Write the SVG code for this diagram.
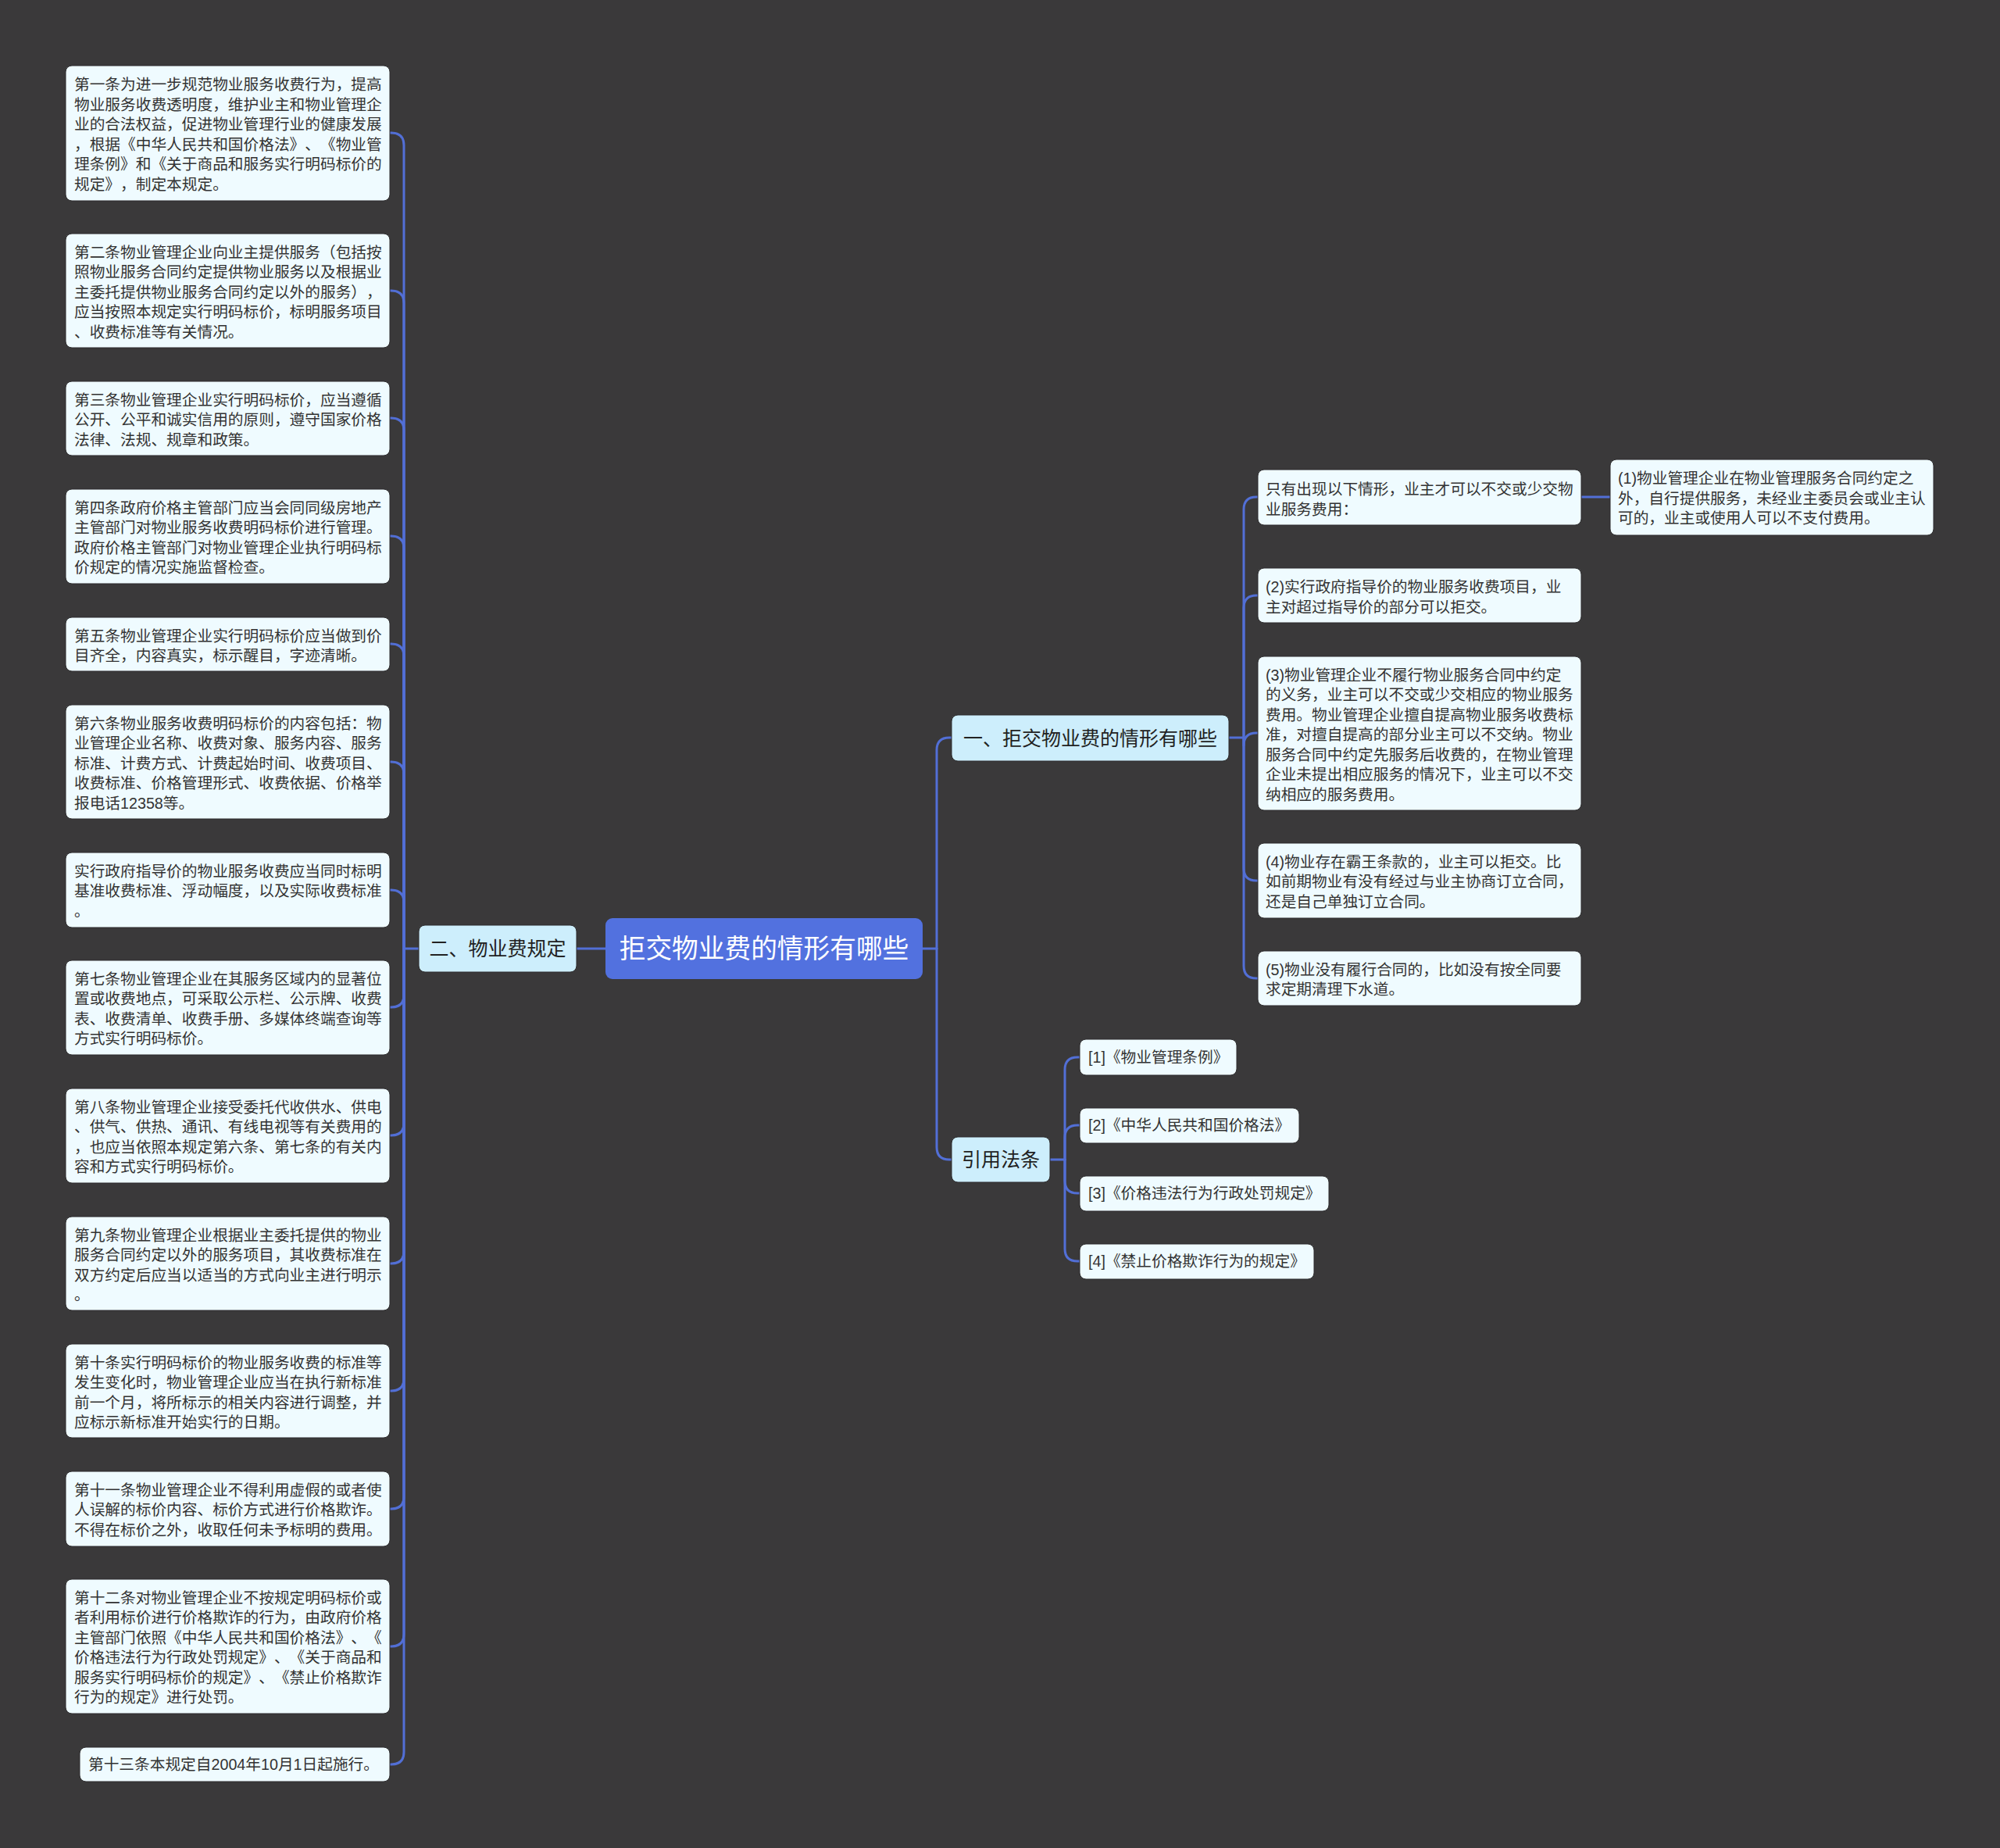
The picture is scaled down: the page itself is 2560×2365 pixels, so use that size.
<svg xmlns="http://www.w3.org/2000/svg" width="2560" height="2365" viewBox="0 0 2560 2365">
<style>
text{text-spacing-trim:space-all;font-kerning:none;font-feature-settings:"halt" 0,"chws" 0,"palt" 0}
.bg{fill:#3a393a}
.leaf{fill:#effbff;stroke:#2c2b2c;stroke-width:1}
.l1{fill:#cdeefc;stroke:#2c2b2c;stroke-width:1}
.root{fill:#5271df}
.t{font-family:"Liberation Sans","Noto Sans CJK SC",sans-serif;font-size:19.7px;fill:#333333}
.t1{font-family:"Liberation Sans","Noto Sans CJK SC",sans-serif;font-size:25px;fill:#222222;text-anchor:middle}
.tr{font-family:"Liberation Sans","Noto Sans CJK SC",sans-serif;font-size:33.7px;fill:#ffffff;text-anchor:middle}
.c{fill:none;stroke:#526fd6;stroke-width:3;stroke-linecap:round;stroke-linejoin:round}
</style>
<rect class="bg" x="0" y="0" width="2560" height="2365"/>

<g id="connectors">
<path class="c" d="M775 1214 H738"/>
<path class="c" d="M536 1214 H517"/>
<path class="c" d="M517 1214 V186 Q517 170 501 170 H499"/>
<path class="c" d="M517 1214 V388 Q517 372 501 372 H499"/>
<path class="c" d="M517 1214 V551 Q517 535 501 535 H499"/>
<path class="c" d="M517 1214 V702 Q517 686 501 686 H499"/>
<path class="c" d="M517 1214 V840 Q517 824 501 824 H499"/>
<path class="c" d="M517 1214 V991 Q517 975 501 975 H499"/>
<path class="c" d="M517 1214 V1155 Q517 1139 501 1139 H499"/>
<path class="c" d="M517 1214 V1273 Q517 1289 501 1289 H499"/>
<path class="c" d="M517 1214 V1437 Q517 1453 501 1453 H499"/>
<path class="c" d="M517 1214 V1601 Q517 1617 501 1617 H499"/>
<path class="c" d="M517 1214 V1764 Q517 1780 501 1780 H499"/>
<path class="c" d="M517 1214 V1915 Q517 1931 501 1931 H499"/>
<path class="c" d="M517 1214 V2091 Q517 2107 501 2107 H499"/>
<path class="c" d="M517 1214 V2242 Q517 2258 501 2258 H499"/>
<path class="c" d="M1181 1214 H1199"/>
<path class="c" d="M1199 1214 V960 Q1199 944 1215 944 H1218"/>
<path class="c" d="M1199 1214 V1468 Q1199 1484 1215 1484 H1218"/>
<path class="c" d="M1573 944 H1592"/>
<path class="c" d="M1592 944 V652 Q1592 636 1608 636 H1610"/>
<path class="c" d="M1592 944 V778 Q1592 762 1608 762 H1610"/>
<path class="c" d="M1592 944 V954 Q1592 938 1608 938 H1610"/>
<path class="c" d="M1592 944 V1111 Q1592 1127 1608 1127 H1610"/>
<path class="c" d="M1592 944 V1236 Q1592 1252 1608 1252 H1610"/>
<path class="c" d="M2023 636 H2061"/>
<path class="c" d="M1344 1484 H1363"/>
<path class="c" d="M1363 1484 V1369 Q1363 1353 1379 1353 H1382"/>
<path class="c" d="M1363 1484 V1456 Q1363 1440 1379 1440 H1382"/>
<path class="c" d="M1363 1484 V1511 Q1363 1527 1379 1527 H1382"/>
<path class="c" d="M1363 1484 V1598 Q1363 1614 1379 1614 H1382"/>
</g>

<g id="root">
<rect class="root" x="775" y="1175" width="406" height="78" rx="9"/>
<text class="tr" x="978" y="1226">拒交物业费的情形有哪些</text>
</g>

<g id="branch-2">
<rect class="l1" x="536" y="1184" width="202" height="60" rx="8"/>
<text class="t1" x="637" y="1223">二、物业费规定</text>
</g>

<g id="branch-1">
<rect class="l1" x="1218" y="915" width="355" height="59" rx="8"/>
<text class="t1" x="1395.5" y="954">一、拒交物业费的情形有哪些</text>
</g>

<g id="branch-3">
<rect class="l1" x="1218" y="1455" width="126" height="58" rx="8"/>
<text class="t1" x="1281" y="1493">引用法条</text>
</g>

<g id="art1">
<rect class="leaf" x="84" y="84" width="415" height="173" rx="8"/>
<text class="t" x="95" y="115">第一条为进一步规范物业服务收费行为，提高</text>
<text class="t" x="95" y="140.5">物业服务收费透明度，维护业主和物业管理企</text>
<text class="t" x="95" y="166">业的合法权益，促进物业管理行业的健康发展</text>
<text class="t" x="95" y="191.5">，根据《中华人民共和国价格法》、《物业管</text>
<text class="t" x="95" y="217">理条例》和《关于商品和服务实行明码标价的</text>
<text class="t" x="95" y="242.5">规定》，制定本规定。</text>
</g>

<g id="art2">
<rect class="leaf" x="84" y="299" width="415" height="146" rx="8"/>
<text class="t" x="95" y="329.5">第二条物业管理企业向业主提供服务（包括按</text>
<text class="t" x="95" y="355">照物业服务合同约定提供物业服务以及根据业</text>
<text class="t" x="95" y="380.5">主委托提供物业服务合同约定以外的服务），</text>
<text class="t" x="95" y="406">应当按照本规定实行明码标价，标明服务项目</text>
<text class="t" x="95" y="431.5">、收费标准等有关情况。</text>
</g>

<g id="art3">
<rect class="leaf" x="84" y="488" width="415" height="95" rx="8"/>
<text class="t" x="95" y="518.5">第三条物业管理企业实行明码标价，应当遵循</text>
<text class="t" x="95" y="544">公开、公平和诚实信用的原则，遵守国家价格</text>
<text class="t" x="95" y="569.5">法律、法规、规章和政策。</text>
</g>

<g id="art4">
<rect class="leaf" x="84" y="626" width="415" height="121" rx="8"/>
<text class="t" x="95" y="656.5">第四条政府价格主管部门应当会同同级房地产</text>
<text class="t" x="95" y="682">主管部门对物业服务收费明码标价进行管理。</text>
<text class="t" x="95" y="707.5">政府价格主管部门对物业管理企业执行明码标</text>
<text class="t" x="95" y="733">价规定的情况实施监督检查。</text>
</g>

<g id="art5">
<rect class="leaf" x="84" y="790" width="415" height="69" rx="8"/>
<text class="t" x="95" y="820.5">第五条物业管理企业实行明码标价应当做到价</text>
<text class="t" x="95" y="846">目齐全，内容真实，标示醒目，字迹清晰。</text>
</g>

<g id="art6">
<rect class="leaf" x="84" y="902" width="415" height="146" rx="8"/>
<text class="t" x="95" y="932.5">第六条物业服务收费明码标价的内容包括：物</text>
<text class="t" x="95" y="958">业管理企业名称、收费对象、服务内容、服务</text>
<text class="t" x="95" y="983.5">标准、计费方式、计费起始时间、收费项目、</text>
<text class="t" x="95" y="1009">收费标准、价格管理形式、收费依据、价格举</text>
<text class="t" x="95" y="1034.5">报电话12358等。</text>
</g>

<g id="art6b">
<rect class="leaf" x="84" y="1091" width="415" height="96" rx="8"/>
<text class="t" x="95" y="1121.5">实行政府指导价的物业服务收费应当同时标明</text>
<text class="t" x="95" y="1147">基准收费标准、浮动幅度，以及实际收费标准</text>
<text class="t" x="95" y="1172.5">。</text>
</g>

<g id="art7">
<rect class="leaf" x="84" y="1229" width="415" height="121" rx="8"/>
<text class="t" x="95" y="1259.5">第七条物业管理企业在其服务区域内的显著位</text>
<text class="t" x="95" y="1285">置或收费地点，可采取公示栏、公示牌、收费</text>
<text class="t" x="95" y="1310.5">表、收费清单、收费手册、多媒体终端查询等</text>
<text class="t" x="95" y="1336">方式实行明码标价。</text>
</g>

<g id="art8">
<rect class="leaf" x="84" y="1393" width="415" height="121" rx="8"/>
<text class="t" x="95" y="1423.5">第八条物业管理企业接受委托代收供水、供电</text>
<text class="t" x="95" y="1449">、供气、供热、通讯、有线电视等有关费用的</text>
<text class="t" x="95" y="1474.5">，也应当依照本规定第六条、第七条的有关内</text>
<text class="t" x="95" y="1500">容和方式实行明码标价。</text>
</g>

<g id="art9">
<rect class="leaf" x="84" y="1557" width="415" height="120" rx="8"/>
<text class="t" x="95" y="1587.5">第九条物业管理企业根据业主委托提供的物业</text>
<text class="t" x="95" y="1613">服务合同约定以外的服务项目，其收费标准在</text>
<text class="t" x="95" y="1638.5">双方约定后应当以适当的方式向业主进行明示</text>
<text class="t" x="95" y="1664">。</text>
</g>

<g id="art10">
<rect class="leaf" x="84" y="1720" width="415" height="120" rx="8"/>
<text class="t" x="95" y="1750.5">第十条实行明码标价的物业服务收费的标准等</text>
<text class="t" x="95" y="1776">发生变化时，物业管理企业应当在执行新标准</text>
<text class="t" x="95" y="1801.5">前一个月，将所标示的相关内容进行调整，并</text>
<text class="t" x="95" y="1827">应标示新标准开始实行的日期。</text>
</g>

<g id="art11">
<rect class="leaf" x="84" y="1883" width="415" height="96" rx="8"/>
<text class="t" x="95" y="1913.5">第十一条物业管理企业不得利用虚假的或者使</text>
<text class="t" x="95" y="1939">人误解的标价内容、标价方式进行价格欺诈。</text>
<text class="t" x="95" y="1964.5">不得在标价之外，收取任何未予标明的费用。</text>
</g>

<g id="art12">
<rect class="leaf" x="84" y="2021" width="415" height="172" rx="8"/>
<text class="t" x="95" y="2051.5">第十二条对物业管理企业不按规定明码标价或</text>
<text class="t" x="95" y="2077">者利用标价进行价格欺诈的行为，由政府价格</text>
<text class="t" x="95" y="2102.5">主管部门依照《中华人民共和国价格法》、《</text>
<text class="t" x="95" y="2128">价格违法行为行政处罚规定》、《关于商品和</text>
<text class="t" x="95" y="2153.5">服务实行明码标价的规定》、《禁止价格欺诈</text>
<text class="t" x="95" y="2179">行为的规定》进行处罚。</text>
</g>

<g id="art13">
<rect class="leaf" x="102" y="2236" width="397" height="44" rx="8"/>
<text class="t" x="113" y="2265">第十三条本规定自2004年10月1日起施行。</text>
</g>

<g id="case-intro">
<rect class="leaf" x="1610" y="601" width="414" height="71" rx="8"/>
<text class="t" x="1620" y="633">只有出现以下情形，业主才可以不交或少交物</text>
<text class="t" x="1620" y="658.5">业服务费用：</text>
</g>

<g id="case1">
<rect class="leaf" x="2061" y="588" width="414" height="97" rx="8"/>
<text class="t" x="2071" y="619">(1)物业管理企业在物业管理服务合同约定之</text>
<text class="t" x="2071" y="644.5">外，自行提供服务，未经业主委员会或业主认</text>
<text class="t" x="2071" y="670">可的，业主或使用人可以不支付费用。</text>
</g>

<g id="case2">
<rect class="leaf" x="1610" y="727" width="414" height="70" rx="8"/>
<text class="t" x="1620" y="758">(2)实行政府指导价的物业服务收费项目，业</text>
<text class="t" x="1620" y="783.5">主对超过指导价的部分可以拒交。</text>
</g>

<g id="case3">
<rect class="leaf" x="1610" y="840" width="414" height="197" rx="8"/>
<text class="t" x="1620" y="870.5">(3)物业管理企业不履行物业服务合同中约定</text>
<text class="t" x="1620" y="896">的义务，业主可以不交或少交相应的物业服务</text>
<text class="t" x="1620" y="921.5">费用。物业管理企业擅自提高物业服务收费标</text>
<text class="t" x="1620" y="947">准，对擅自提高的部分业主可以不交纳。物业</text>
<text class="t" x="1620" y="972.5">服务合同中约定先服务后收费的，在物业管理</text>
<text class="t" x="1620" y="998">企业未提出相应服务的情况下，业主可以不交</text>
<text class="t" x="1620" y="1023.5">纳相应的服务费用。</text>
</g>

<g id="case4">
<rect class="leaf" x="1610" y="1079" width="414" height="96" rx="8"/>
<text class="t" x="1620" y="1109.5">(4)物业存在霸王条款的，业主可以拒交。比</text>
<text class="t" x="1620" y="1135">如前期物业有没有经过与业主协商订立合同，</text>
<text class="t" x="1620" y="1160.5">还是自己单独订立合同。</text>
</g>

<g id="case5">
<rect class="leaf" x="1610" y="1217" width="414" height="70" rx="8"/>
<text class="t" x="1620" y="1247.5">(5)物业没有履行合同的，比如没有按全同要</text>
<text class="t" x="1620" y="1273">求定期清理下水道。</text>
</g>

<g id="cite1">
<rect class="leaf" x="1382" y="1330" width="201" height="46" rx="8"/>
<text class="t" x="1393" y="1360">[1]《物业管理条例》</text>
</g>
<g id="cite2">
<rect class="leaf" x="1382" y="1418" width="281" height="45" rx="8"/>
<text class="t" x="1393" y="1447">[2]《中华人民共和国价格法》</text>
</g>
<g id="cite3">
<rect class="leaf" x="1382" y="1505" width="319" height="45" rx="8"/>
<text class="t" x="1393" y="1534">[3]《价格违法行为行政处罚规定》</text>
</g>
<g id="cite4">
<rect class="leaf" x="1382" y="1592" width="300" height="45" rx="8"/>
<text class="t" x="1393" y="1621">[4]《禁止价格欺诈行为的规定》</text>
</g>
</svg>
